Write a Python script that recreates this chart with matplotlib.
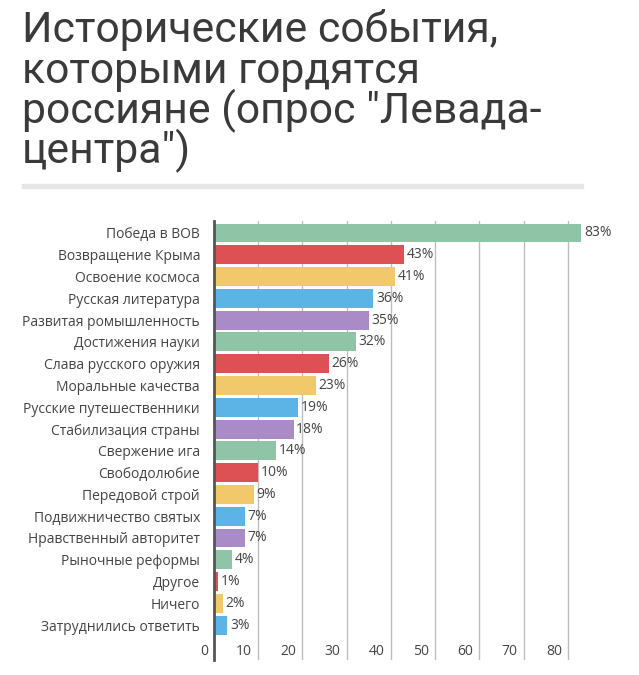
import matplotlib
matplotlib.use("Agg")
import matplotlib.pyplot as plt
import matplotlib.transforms as mtransforms

# data
categories = ["Победа в ВОВ", "Возвращение Крыма", "Освоение космоса",
              "Русская литература", "Развитая ромышленность", "Достижения науки",
              "Слава русского оружия", "Моральные качества",
              "Русские путешественники", "Стабилизация страны", "Свержение ига",
              "Свободолюбие", "Передовой строй", "Подвижничество святых",
              "Нравственный авторитет", "Рыночные реформы", "Другое", "Ничего",
              "Затруднились ответить"]
values = [83, 43, 41, 36, 35, 32, 26, 23, 19, 18, 14, 10, 9, 7, 7, 4, 1, 2, 3]
xticks = [0, 10, 20, 30, 40, 50, 60, 70, 80]
title_lines = ["Исторические события,", "которыми гордятся",
               "россияне (опрос \"Левада-", "центра\")"]

palette = ["#8fc4a6", "#dd5054", "#f2c96a", "#5cb4e6", "#a98bc8"]

plt.rcParams['font.family'] = ['Roboto', 'DejaVu Sans']
label_font = ['Open Sans', 'DejaVu Sans']

fig = plt.figure(figsize=(6.39, 6.75), dpi=100)

# title
for i, line in enumerate(title_lines):
    fig.text(22/639, 1 - (42 + i*40.5)/675, line, fontsize=30.8,
             color="#3a3a3a", va="baseline", ha="left")

# gray rule under title
fig.patches.append(plt.Rectangle((22/639, 1 - 188/675), (583-22)/639, 4/675,
                                 transform=fig.transFigure, color="#e6e6e6",
                                 zorder=0))

ax = fig.add_axes([214/639, 15/675, (590-214)/639, (660-221)/675])

ypos = list(range(len(categories)))
colors = [palette[i % 5] for i in ypos]
ax.barh(ypos, values, height=0.87, color=colors, zorder=3)

ax.set_xlim(0, 85)
ax.set_ylim(19.6, -0.55)

# gridlines
for t in xticks[1:]:
    ax.axvline(t, color="#bdbdbd", lw=1, zorder=1)

# value labels
for y, v in zip(ypos, values):
    ax.text(v + 0.6, y, f"{v}%", va="center", ha="left", fontsize=10,
            color="#444444", zorder=4, family=label_font)

# category labels
ax.set_yticks(ypos)
ax.set_yticklabels(categories, fontsize=10, color="#444444", family=label_font)
ax.tick_params(axis="y", length=0, pad=10)

# x tick labels inside the axes, to the left of each gridline
ax.set_xticks([])
shift = mtransforms.ScaledTranslation(-6/100, 0, fig.dpi_scale_trans)
for t in xticks:
    ax.text(t, 19.2, str(t), ha="right", va="center", fontsize=10,
            color="#444444", transform=ax.transData + shift, family=label_font)

for s in ["top", "right", "bottom"]:
    ax.spines[s].set_visible(False)
ax.spines["left"].set_color("#555555")
ax.spines["left"].set_linewidth(2)
ax.spines["left"].set_zorder(5)

fig.savefig("out.png", dpi=100)
